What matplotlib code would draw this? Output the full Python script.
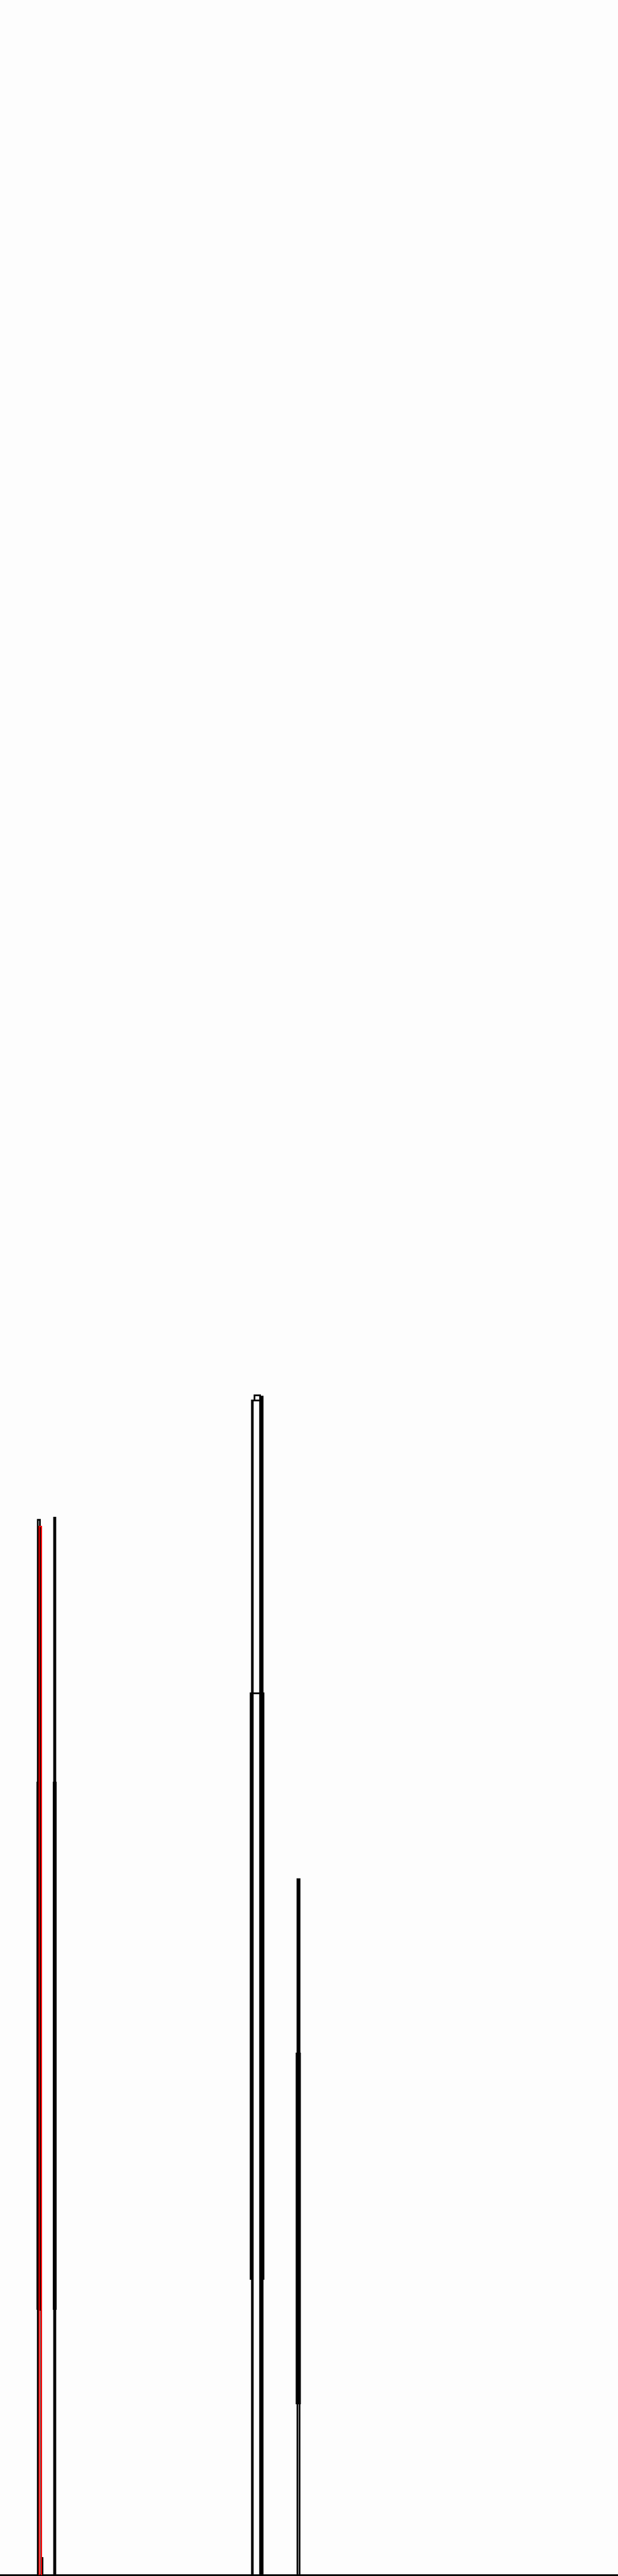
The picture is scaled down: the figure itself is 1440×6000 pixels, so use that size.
# -*- coding: utf-8 -*-
## 細いスパイクの段差グラフ (step outline)
import matplotlib
matplotlib.use("Agg")
from matplotlib import pyplot as plt

## 黒い主スパイク: 各要素が1本の段差線 (bin edges, bin values)
tall_edges = [[22.0, 23.2, 23.9], [31.47, 32.28], [146.65, 151.4],
              [147.2, 151.9, 152.4], [152.4, 153.1], [173.33, 174.45]]
tall_values = [[409.8, 103.0], [410.6], [456.2],
               [456.2, 114.7], [457.7], [270.3]]

## 中段 (下端は低い段で止まる)
mid_edges = [[21.7, 23.95], [31.25, 32.5], [146.1, 153.45], [172.85, 174.7], [173.7, 174.08]]
mid_values = [[307.8], [307.8], [342.4], [202.6], [270.0]]
mid_base = [103.0, 103.0, 114.7, 66.4, 66.4]

## 頂上の小さな段
cap_edges = [[148.37, 151.5]]
cap_values = [[458.2]]
cap_base = [456.2]

## 根元の小さなスパイク
small_edges = [[24.3, 24.83]]
small_values = [[6.7]]

## 赤いスパイク
red_edges = [22.65, 23.95]
red_values = [407.3]

fig = plt.figure(figsize=(14.4, 60), dpi=100)
ax = fig.add_axes([0, 2 / 6000, 1, 1 - 2 / 6000])

lw = 1.7
for e, v in zip(tall_edges, tall_values):
    ax.stairs(v, e, baseline=0, color="black", lw=lw, antialiased=False)
for e, v, b in zip(mid_edges, mid_values, mid_base):
    ax.stairs(v, e, baseline=b, color="black", lw=lw, antialiased=False)
for e, v, b in zip(cap_edges, cap_values, cap_base):
    ax.stairs(v, e, baseline=b, color="black", lw=lw, antialiased=False)
for e, v in zip(small_edges, small_values):
    ax.stairs(v, e, baseline=0, color="black", lw=lw, antialiased=False)
ax.stairs(red_values, red_edges, baseline=0, color="red", lw=2.0, zorder=3,
          antialiased=False)

ax.set_xlim(0, 360)
ax.set_ylim(0, 1000)
ax.set_xticks([])
ax.set_yticks([])
for s in ["top", "right", "left"]:
    ax.spines[s].set_visible(False)
ax.spines["bottom"].set_linewidth(2.9)
ax.spines["bottom"].set_color("black")
ax.set_facecolor("#fdfdfd")
fig.patch.set_facecolor("#fdfdfd")

plt.savefig("out.png", dpi=100)
